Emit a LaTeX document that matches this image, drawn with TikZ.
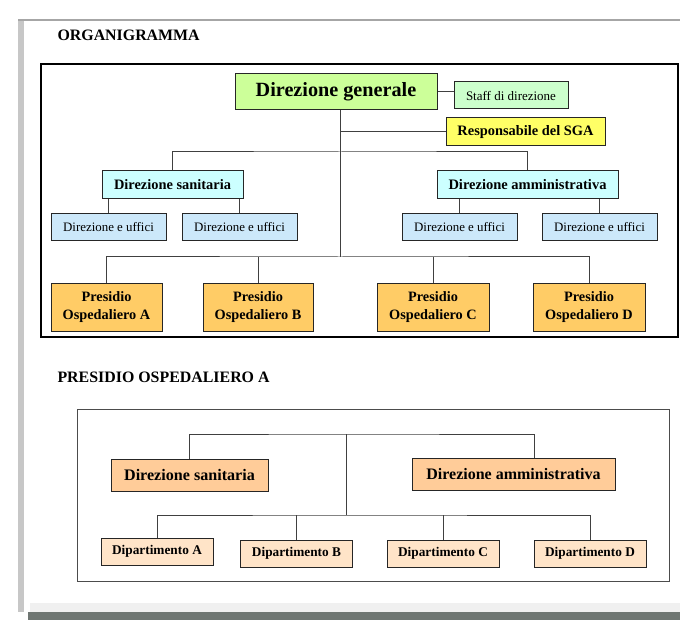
\documentclass[tikz,border=0pt]{standalone}
\usepackage{fontspec}
\setmainfont{Liberation Serif}
\definecolor{gengreen}{HTML}{CCFF99}
\definecolor{staffgreen}{HTML}{CCFFCC}
\definecolor{sgayellow}{HTML}{FFFF66}
\definecolor{dircyan}{HTML}{CCFFFF}
\definecolor{uffblue}{HTML}{CCE8FA}
\definecolor{presorange}{HTML}{FFCC66}
\definecolor{dir2orange}{HTML}{FFCC99}
\definecolor{deptpeach}{HTML}{FFE4C8}
\definecolor{pagebar}{HTML}{6F7672}
\begin{document}
\begin{tikzpicture}[x=1pt,y=-1pt,
  box/.style={draw=black!85,line width=1pt,inner sep=0pt,minimum height=27},
  link/.style={draw=black!75,line width=1pt},
  title/.style={anchor=base west,font=\bfseries\fontsize{15.9}{19}\selectfont}]
\useasboundingbox (0,0) rectangle (680,620);
\fill[black!22] (18,19) rectangle (24,612);
\draw[black!35,line width=1.5pt] (18,20) -- (680,20);
\fill[black!6] (30,603) rectangle (680,612);
\fill[pagebar] (28,612) rectangle (680,620);
\node[title] (t1) at (54,41) {ORGANIGRAMMA};
\draw[line width=1.2pt] (41,64) rectangle (678,337);
\node[box,fill=gengreen,minimum width=202,minimum height=36,font=\bfseries\fontsize{20.2}{24}\selectfont] (gen) at (336,92) {Direzione generale};
\node[box,fill=staffgreen,minimum width=114,font=\fontsize{13}{15}\selectfont] (staff) at (511,95.5) {Staff di direzione};
\node[box,fill=sgayellow,minimum width=159,minimum height=28,font=\bfseries\fontsize{14.4}{17}\selectfont] (sga) at (525.5,132) {Responsabile del SGA};
\node[box,fill=dircyan,minimum width=141,minimum height=28,font=\bfseries\fontsize{14.4}{17}\selectfont] (ds) at (172.5,185) {Direzione sanitaria};
\node[box,fill=dircyan,minimum width=181,minimum height=28,font=\bfseries\fontsize{14.5}{17}\selectfont] (da) at (527.5,185) {Direzione amministrativa};
\foreach \n/\x in {u1/108.5,u2/239.5,u3/459.5,u4/599.5}
  \node[box,fill=uffblue,minimum width=115,font=\fontsize{12.9}{15}\selectfont] (\n) at (\x,227.5) {Direzione e uffici};
\foreach \n/\x/\w/\l in {pA/106.5/111/A,pB/258/110/B,pC/433/112/C,pD/589/112/D}
  \node[box,fill=presorange,minimum width=\w,minimum height=47,align=center,font=\bfseries\fontsize{14.3}{18}\selectfont] (\n) at (\x,307.5) {Presidio\\Ospedaliero \l};
\coordinate (spine) at (340,257);
\coordinate (dirbus) at (340,152);
\draw[link] (gen.south -| spine) -- (spine);
\draw[link] (gen.east) -- (gen.east -| staff.west);
\draw[link] (sga.west -| spine) -- (sga.west);
\draw[link] (ds.north) |- (dirbus) -| (da.north);
\draw[link] (u1.north) -- (u1.north |- ds.south);
\draw[link] (u2.north) -- (u2.north |- ds.south);
\draw[link] (u3.north) -- (u3.north |- da.south);
\draw[link] (u4.north) -- (u4.north |- da.south);
\draw[link] (pA.north) |- (spine) -| (pD.north);
\draw[link] (pB.north) -- (pB.north |- spine);
\draw[link] (pC.north) -- (pC.north |- spine);
\node[title] (t2) at (54,382) {PRESIDIO OSPEDALIERO A};
\draw[black!70,line width=1pt] (77,409) rectangle (669,581);
\node[box,fill=dir2orange,minimum width=157,minimum height=32,font=\bfseries\fontsize{16.1}{19}\selectfont] (ds2) at (189.5,475) {Direzione sanitaria};
\node[box,fill=dir2orange,minimum width=203,minimum height=32,font=\bfseries\fontsize{16}{19}\selectfont] (da2) at (513.5,474) {Direzione amministrativa};
\foreach \n/\x/\y/\l in {dA/157/551.5/A,dB/296.5/553.5/B,dC/443/553.5/C,dD/590/553.5/D}
  \node[box,fill=deptpeach,minimum width=112,font=\bfseries\fontsize{13.3}{16}\selectfont] (\n) at (\x,\y) {Dipartimento \l};
\coordinate (hub2) at (346,434);
\coordinate (deptbus) at (346,515);
\draw[link] (ds2.north) |- (hub2) -| ([xshift=20.5]da2.north);
\draw[link] (hub2) -- (deptbus);
\draw[link] (dA.north) |- (deptbus) -| (dD.north);
\draw[link] (dB.north) -- (dB.north |- deptbus);
\draw[link] (dC.north) -- (dC.north |- deptbus);
\end{tikzpicture}
\end{document}
